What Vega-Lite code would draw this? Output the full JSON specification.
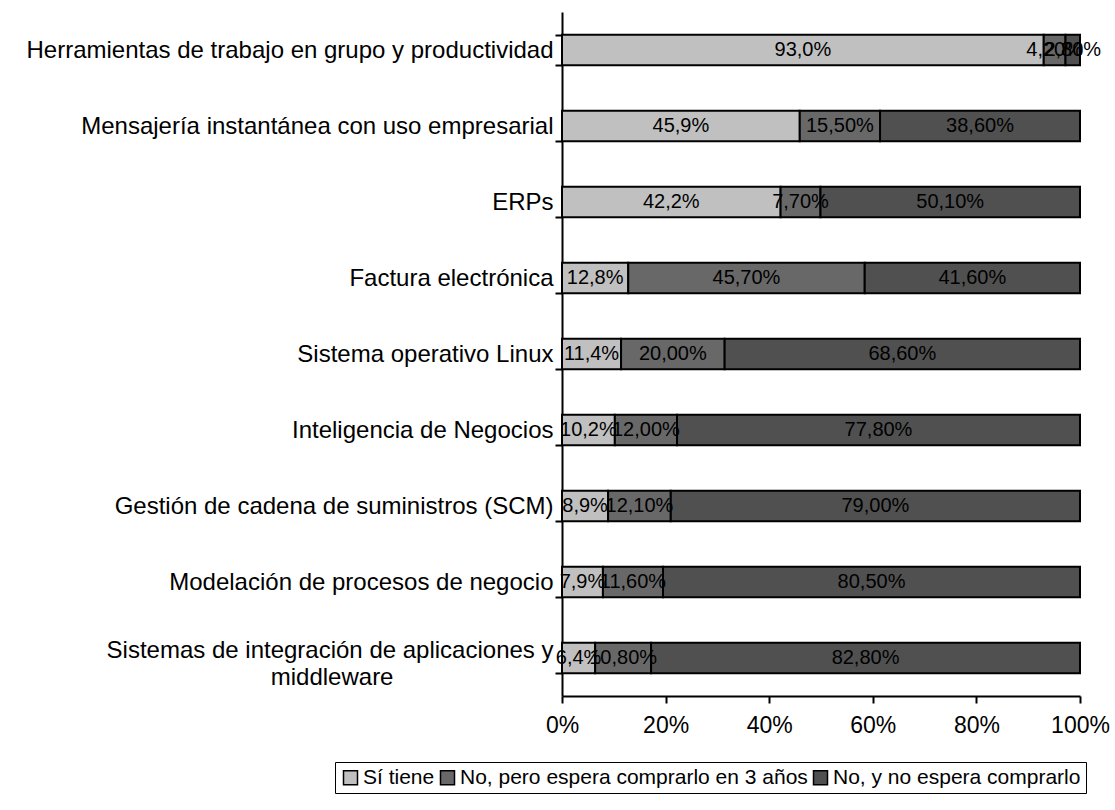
{
  "$schema": "https://vega.github.io/schema/vega-lite/v6.json",
  "autosize": {"type": "none"},
  "padding": {"left": 562, "top": 12, "right": 35, "bottom": 114},
  "width": 518,
  "height": 684,
  "background": "white",
  "config": {
    "font": "Liberation Sans",
    "view": {"stroke": null}
  },
  "data": {
    "values": [
      {"cat": "Herramientas de trabajo en grupo y productividad", "serie": "Sí tiene", "k": 1, "v": 93.0, "label": "93,0%"},
      {"cat": "Herramientas de trabajo en grupo y productividad", "serie": "No, pero espera comprarlo en 3 años", "k": 2, "v": 4.2, "label": "4,20%"},
      {"cat": "Herramientas de trabajo en grupo y productividad", "serie": "No, y no espera comprarlo", "k": 3, "v": 2.8, "label": "2,80%"},
      {"cat": "Mensajería instantánea con uso empresarial", "serie": "Sí tiene", "k": 1, "v": 45.9, "label": "45,9%"},
      {"cat": "Mensajería instantánea con uso empresarial", "serie": "No, pero espera comprarlo en 3 años", "k": 2, "v": 15.5, "label": "15,50%"},
      {"cat": "Mensajería instantánea con uso empresarial", "serie": "No, y no espera comprarlo", "k": 3, "v": 38.6, "label": "38,60%"},
      {"cat": "ERPs", "serie": "Sí tiene", "k": 1, "v": 42.2, "label": "42,2%"},
      {"cat": "ERPs", "serie": "No, pero espera comprarlo en 3 años", "k": 2, "v": 7.7, "label": "7,70%"},
      {"cat": "ERPs", "serie": "No, y no espera comprarlo", "k": 3, "v": 50.1, "label": "50,10%"},
      {"cat": "Factura electrónica", "serie": "Sí tiene", "k": 1, "v": 12.8, "label": "12,8%"},
      {"cat": "Factura electrónica", "serie": "No, pero espera comprarlo en 3 años", "k": 2, "v": 45.7, "label": "45,70%"},
      {"cat": "Factura electrónica", "serie": "No, y no espera comprarlo", "k": 3, "v": 41.6, "label": "41,60%"},
      {"cat": "Sistema operativo Linux", "serie": "Sí tiene", "k": 1, "v": 11.4, "label": "11,4%"},
      {"cat": "Sistema operativo Linux", "serie": "No, pero espera comprarlo en 3 años", "k": 2, "v": 20.0, "label": "20,00%"},
      {"cat": "Sistema operativo Linux", "serie": "No, y no espera comprarlo", "k": 3, "v": 68.6, "label": "68,60%"},
      {"cat": "Inteligencia de Negocios", "serie": "Sí tiene", "k": 1, "v": 10.2, "label": "10,2%"},
      {"cat": "Inteligencia de Negocios", "serie": "No, pero espera comprarlo en 3 años", "k": 2, "v": 12.0, "label": "12,00%"},
      {"cat": "Inteligencia de Negocios", "serie": "No, y no espera comprarlo", "k": 3, "v": 77.8, "label": "77,80%"},
      {"cat": "Gestión de cadena de suministros (SCM)", "serie": "Sí tiene", "k": 1, "v": 8.9, "label": "8,9%"},
      {"cat": "Gestión de cadena de suministros (SCM)", "serie": "No, pero espera comprarlo en 3 años", "k": 2, "v": 12.1, "label": "12,10%"},
      {"cat": "Gestión de cadena de suministros (SCM)", "serie": "No, y no espera comprarlo", "k": 3, "v": 79.0, "label": "79,00%"},
      {"cat": "Modelación de procesos de negocio", "serie": "Sí tiene", "k": 1, "v": 7.9, "label": "7,9%"},
      {"cat": "Modelación de procesos de negocio", "serie": "No, pero espera comprarlo en 3 años", "k": 2, "v": 11.6, "label": "11,60%"},
      {"cat": "Modelación de procesos de negocio", "serie": "No, y no espera comprarlo", "k": 3, "v": 80.5, "label": "80,50%"},
      {"cat": "Sistemas de integración de aplicaciones y middleware", "serie": "Sí tiene", "k": 1, "v": 6.4, "label": "6,4%"},
      {"cat": "Sistemas de integración de aplicaciones y middleware", "serie": "No, pero espera comprarlo en 3 años", "k": 2, "v": 10.8, "label": "10,80%"},
      {"cat": "Sistemas de integración de aplicaciones y middleware", "serie": "No, y no espera comprarlo", "k": 3, "v": 82.8, "label": "82,80%"}
    ]
  },
  "encoding": {
    "y": {
      "field": "cat",
      "type": "nominal",
      "sort": null,
      "title": null,
      "scale": {"paddingInner": 0.6, "paddingOuter": 0.3},
      "axis": {
        "domainColor": "black",
        "domainWidth": 2,
        "tickColor": "black",
        "tickWidth": 2,
        "tickSize": 7,
        "tickBand": "extent",
        "labelFont": "Liberation Sans",
        "labelFontSize": 24,
        "labelColor": "black",
        "labelPadding": 2,
        "labelLimit": 700,
        "labelLineHeight": 27,
        "labelOffset": {"condition": {"test": "datum.value == 'Sistemas de integración de aplicaciones y middleware'", "value": -8}, "value": 0},
        "labelExpr": "datum.label == 'Sistemas de integración de aplicaciones y middleware' ? ['Sistemas de integración de aplicaciones y', 'middleware\u00a0\u00a0\u00a0\u00a0\u00a0\u00a0\u00a0\u00a0\u00a0\u00a0\u00a0\u00a0\u00a0\u00a0\u00a0\u00a0\u00a0\u00a0\u00a0\u00a0\u00a0\u00a0\u00a0\u00a0\u200b'] : datum.label"
      }
    },
    "x": {
      "field": "v",
      "type": "quantitative",
      "stack": "normalize",
      "title": null,
      "scale": {"domain": [0, 1], "nice": false},
      "axis": {
        "values": [0, 0.2, 0.4, 0.6, 0.8, 1],
        "format": ".0%",
        "grid": false,
        "domainColor": "black",
        "domainWidth": 2,
        "tickColor": "black",
        "tickWidth": 2,
        "tickSize": 7,
        "labelFont": "Liberation Sans",
        "labelFontSize": 23,
        "labelColor": "black",
        "labelPadding": 11,
        "labelFlush": false
      }
    },
    "order": {"field": "k", "type": "quantitative"}
  },
  "layer": [
    {
      "mark": {"type": "bar", "stroke": "black", "strokeWidth": 2},
      "encoding": {
        "color": {
          "field": "serie",
          "type": "nominal",
          "sort": null,
          "title": null,
          "scale": {
            "domain": ["Sí tiene", "No, pero espera comprarlo en 3 años", "No, y no espera comprarlo"],
            "range": ["#c0c0c0", "#686868", "#505050"]
          },
          "legend": {
            "orient": "none",
            "legendX": -227,
            "legendY": 750,
            "direction": "horizontal",
            "symbolType": "square",
            "symbolSize": 196,
            "symbolStrokeColor": "black",
            "symbolStrokeWidth": 1.5,
            "labelFont": "Liberation Sans",
            "labelFontSize": 21,
            "labelColor": "black",
            "labelOffset": 2,
            "labelLimit": 500,
            "columnPadding": 2,
            "strokeColor": "black",
            "padding": 5
          }
        }
      }
    },
    {
      "mark": {"type": "text", "fontSize": 20, "font": "Liberation Sans", "color": "black", "align": "center", "baseline": "middle"},
      "encoding": {
        "x": {"field": "v", "type": "quantitative", "stack": "normalize", "bandPosition": 0.5},
        "text": {"field": "label"}
      }
    }
  ]
}
